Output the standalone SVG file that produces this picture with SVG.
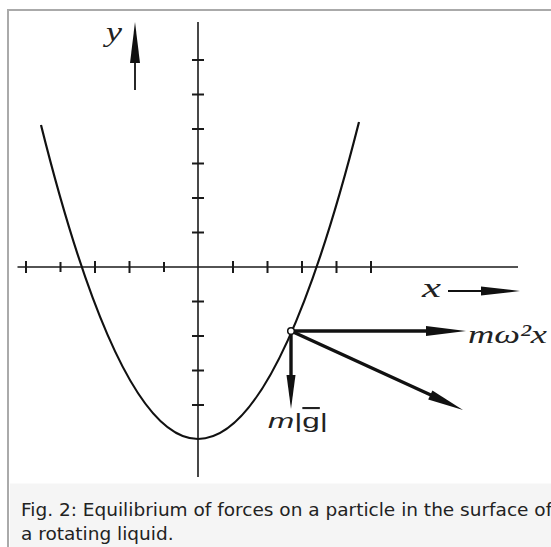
<svg xmlns="http://www.w3.org/2000/svg" width="551" height="547" viewBox="0 0 551 547">
<style>
.axis{stroke:#1a1a1a;stroke-width:1.6;fill:none}
.tick{stroke:#1a1a1a;stroke-width:2}
.curve{stroke:#111;stroke-width:2.2;fill:none}
.force{stroke:#111;stroke-width:3.4;fill:none}
.thin{stroke:#111;stroke-width:1.8;fill:none}
.head{fill:#111}
.lbl{font-family:"Liberation Serif",serif;font-style:italic;fill:#222}
.cap{font-family:"DejaVu Sans",sans-serif;font-size:18.5px;fill:#222}
</style>
<rect x="0" y="0" width="551" height="547" fill="#fff"/>
<g id="frame">
<line x1="7" y1="10" x2="551" y2="10" stroke="#aaa" stroke-width="2"/>
<line x1="8" y1="9" x2="8" y2="547" stroke="#aaa" stroke-width="2"/>
<rect x="10" y="483.5" width="541" height="64" fill="#f5f5f5"/>
</g>
<g id="axes">
<line class="axis" x1="198" y1="22" x2="198" y2="477"/>
<line class="axis" x1="17.5" y1="267" x2="518" y2="267"/>
<path class="tick" d="M26 261V273M60.5 262V272M95 261V273M129.5 261V273M164 262V272M233 261V273M267.5 261V273M302 261V273M336.5 261V273M371 261V273"/>
<path class="tick" d="M192 60H204M192 94.5H204M192 129H204M192 163.5H204M192 198H204M192 232.5H204M192 301.5H204M192 336H204M192 370.5H204M192 405H204"/>
</g>
<g id="parabola">
<path class="curve" d="M41 125Q119.5 439 198 439Q278.5 439 359 122"/>
</g>
<g id="connectors">
<line class="thin" x1="135" y1="90" x2="135" y2="55"/>
<polygon class="head" points="135,22 130,63 140,63"/>
<line class="thin" x1="448" y1="291" x2="485" y2="291"/>
<polygon class="head" points="520,291 481,286.5 481,295.5"/>
<line class="force" x1="291" y1="331" x2="430" y2="331"/>
<polygon class="head" points="466,331 426,326 426,336"/>
<line class="force" x1="291" y1="331" x2="291" y2="380"/>
<polygon class="head" points="291,409 286.5,375 295.5,375"/>
<line class="force" x1="291" y1="331" x2="433" y2="396"/>
<polygon class="head" points="463,410 428.2,399.6 432.4,390.4"/>
</g>
<g id="particle">
<circle cx="291" cy="331" r="3.3" fill="#fff" stroke="#111" stroke-width="1.5"/>
</g>
<g id="labels">
<text class="lbl" x="106" y="41" font-size="28" textLength="16" lengthAdjust="spacingAndGlyphs">y</text>
<text class="lbl" x="422" y="297" font-size="28" textLength="19" lengthAdjust="spacingAndGlyphs">x</text>
<text class="lbl" x="468" y="343" font-size="26" textLength="79" lengthAdjust="spacingAndGlyphs">mω²x</text>
<text x="268" y="428" font-family="Liberation Sans, sans-serif" font-size="21" fill="#222" textLength="60" lengthAdjust="spacingAndGlyphs"><tspan font-style="italic">m</tspan>|<tspan text-decoration="overline">g</tspan>|</text>
</g>
<g id="caption">
<text class="cap" x="21" y="516">Fig. 2: Equilibrium of forces on a particle in the surface of</text>
<text class="cap" x="21" y="540">a rotating liquid.</text>
</g>
</svg>
